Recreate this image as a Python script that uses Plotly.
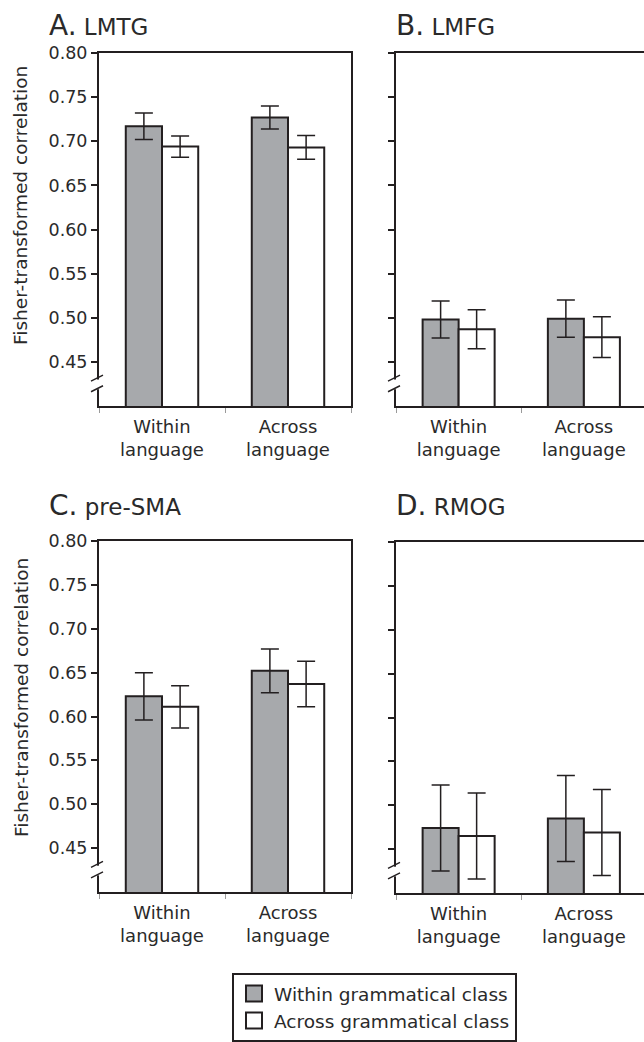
import plotly.graph_objects as go

W, H = 644, 1042

# ---------------- data ----------------
regions = ["LMTG", "LMFG", "pre-SMA", "RMOG"]
panel_letters = ["A.", "B.", "C.", "D."]
categories = ["Within<br>language", "Across<br>language"]
series_names = ["Within grammatical class", "Across grammatical class"]

within_class_mean = [[0.717, 0.727], [0.498, 0.499], [0.623, 0.652], [0.474, 0.485]]
within_class_err = [[0.015, 0.013], [0.021, 0.021], [0.027, 0.025], [0.049, 0.049]]
across_class_mean = [[0.694, 0.693], [0.487, 0.478], [0.611, 0.637], [0.465, 0.469]]
across_class_err = [[0.012, 0.0135], [0.022, 0.023], [0.024, 0.026], [0.049, 0.049]]

y_tick_values = [0.45, 0.50, 0.55, 0.60, 0.65, 0.70, 0.75, 0.80]
y_axis_title = "Fisher-transformed correlation"

# ---------------- style ----------------
FONT = "DejaVu Sans"
DARK = "#231f20"
TXT = "#2a2a2a"
GRAY = "#a7a9ac"
WHITE = "#ffffff"


def px_x(p):
    return p / W


def px_y(p):
    return 1 - p / H


panels = [
    dict(x=(99, 351), y=(53, 406), labels=True, xr=1.5, title=(47, 25), ytitle=206),
    dict(x=(396, 644), y=(53, 406), labels=False, xr=1.48, title=(394, 25)),
    dict(x=(99, 351), y=(541, 892), labels=True, xr=1.5, title=(47, 506), ytitle=698),
    dict(x=(396, 644), y=(542, 893), labels=False, xr=1.48, title=(394, 506)),
]

fig = go.Figure()
layout = dict(
    width=W, height=H,
    margin=dict(l=0, r=0, t=0, b=0, autoexpand=False),
    paper_bgcolor="white", plot_bgcolor="white",
    barmode="group", bargap=0.425, bargroupgap=0,
    font=dict(family=FONT, color=TXT, size=16),
    showlegend=True,
)
annotations = []
shapes = []

x_pos = [0, 1]
for i, p in enumerate(panels):
    sfx = "" if i == 0 else str(i + 1)
    xref, yref = "x" + sfx, "y" + sfx
    for vals, errs, fill, name in [
        (within_class_mean[i], within_class_err[i], GRAY, series_names[0]),
        (across_class_mean[i], across_class_err[i], WHITE, series_names[1]),
    ]:
        fig.add_trace(go.Bar(
            x=x_pos, y=vals, name=name, showlegend=False,
            xaxis=xref, yaxis=yref, offsetgroup=name,
            marker=dict(color=fill, line=dict(color=DARK, width=2)),
            error_y=dict(type="data", array=errs, visible=True,
                         color=DARK, thickness=1.5, width=9),
        ))

    layout["xaxis" + sfx] = dict(
        domain=[px_x(p["x"][0]), px_x(p["x"][1])],
        anchor=yref, range=[-0.5, p["xr"]],
        tickmode="array", tickvals=x_pos, ticktext=categories,
        ticks="", ticklabelstandoff=3,
        showline=True, linecolor=DARK, linewidth=2, mirror=True,
        showgrid=False, zeroline=False, fixedrange=True, automargin=False,
        tickfont=dict(family=FONT, size=18, color=TXT),
        minor=dict(tick0=-0.5, dtick=1, ticks="outside", ticklen=5,
                   tickwidth=1, tickcolor="#9a9a9a", showgrid=False),
    )
    layout["yaxis" + sfx] = dict(
        domain=[px_y(p["y"][1]), px_y(p["y"][0])],
        anchor=xref, range=[0.40, 0.80],
        tickmode="array", tickvals=y_tick_values, tickformat=".2f",
        showticklabels=p["labels"],
        ticks="outside", ticklen=6, tickwidth=2, tickcolor=DARK,
        showline=True, linecolor=DARK, linewidth=2,
        mirror=True if p["labels"] else False,
        showgrid=False, zeroline=False, fixedrange=True, automargin=False,
        tickfont=dict(family=FONT, size=17.5, color=TXT),
    )
    annotations.append(dict(
        xref="paper", yref="paper",
        x=px_x(p["title"][0]), y=px_y(p["title"][1]),
        xanchor="left", yanchor="middle", showarrow=False,
        text="<span style='font-size:28px'>%s</span> %s" % (panel_letters[i], regions[i]),
        font=dict(family=FONT, size=23, color=TXT),
    ))
    if p["labels"]:
        annotations.append(dict(
            xref="paper", yref="paper",
            x=px_x(21), y=px_y(p["ytitle"]),
            xanchor="center", yanchor="middle", showarrow=False,
            textangle=-90, text=y_axis_title,
            font=dict(family=FONT, size=18.5, color=TXT),
        ))
    # axis break marks
    xd = xref + " domain"
    shapes.append(dict(type="rect", xref=xd, yref=yref, layer="above",
                       xsizemode="pixel", xanchor=0, x0=-4, x1=2,
                       y0=0.419, y1=0.430, fillcolor="white", line=dict(width=0)))
    for yc in (0.4315, 0.4195):
        shapes.append(dict(type="line", xref=xd, yref=yref, layer="above",
                           xsizemode="pixel", xanchor=0, x0=-8, x1=4,
                           ysizemode="pixel", yanchor=yc, y0=-3, y1=3,
                           line=dict(color=DARK, width=1.5)))

# legend entries
for name, fill in zip(series_names, [GRAY, WHITE]):
    fig.add_trace(go.Scatter(
        x=[None], y=[None], mode="markers", name=name,
        marker=dict(symbol="square", size=16, color=fill,
                    line=dict(color=DARK, width=2)),
        xaxis="x", yaxis="y", showlegend=True,
    ))

layout["legend"] = dict(
    x=px_x(232), y=px_y(973), xanchor="left", yanchor="top",
    bordercolor=DARK, borderwidth=2, bgcolor="white",
    font=dict(family=FONT, size=18.5, color=TXT),
    tracegroupgap=0, itemwidth=30,
)
layout["annotations"] = annotations
layout["shapes"] = shapes
fig.update_layout(**layout)

fig.write_html(
    "out.html",
    config={"displayModeBar": False},
    post_script="document.body.style.margin='0';document.body.style.overflow='hidden';",
)
